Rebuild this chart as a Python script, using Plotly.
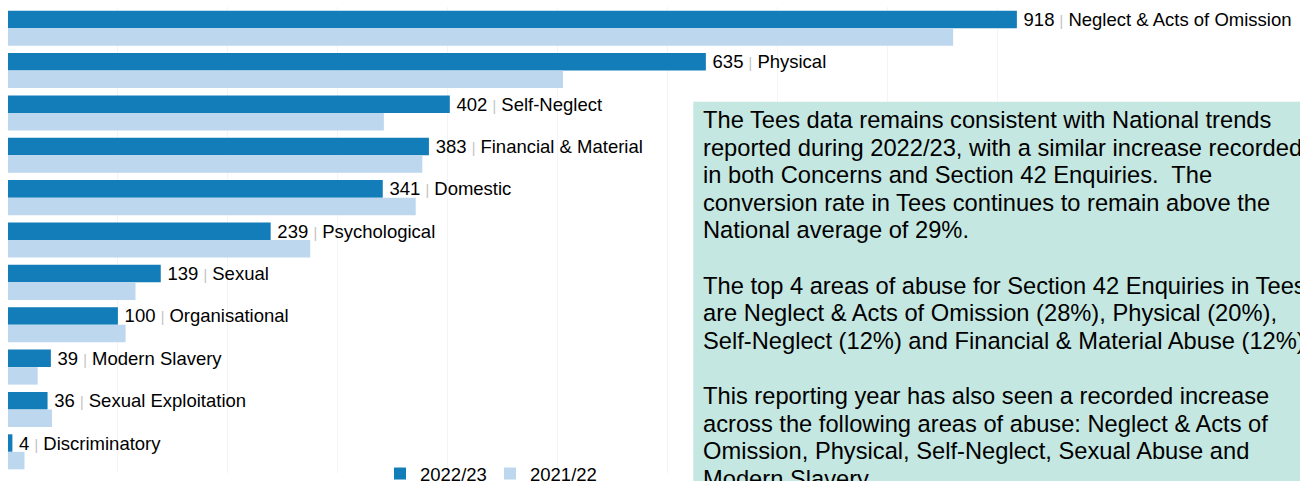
import plotly.graph_objects as go

categories = ["Neglect & Acts of Omission", "Physical", "Self-Neglect", "Financial & Material",
              "Domestic", "Psychological", "Sexual", "Organisational", "Modern Slavery",
              "Sexual Exploitation", "Discriminatory"]
values_2223 = [918, 635, 402, 383, 341, 239, 139, 100, 39, 36, 4]
values_2122 = [860, 505, 342, 377, 371, 275, 116, 107, 27, 40, 15]
series_names = ["2022/23", "2021/22"]

note_lines = [
    "The Tees data remains consistent with National trends",
    "reported during 2022/23, with a similar increase recorded",
    "in both Concerns and Section 42 Enquiries.  The",
    "conversion rate in Tees continues to remain above the",
    "National average of 29%.",
    "",
    "The top 4 areas of abuse for Section 42 Enquiries in Tees",
    "are Neglect & Acts of Omission (28%), Physical (20%),",
    "Self-Neglect (12%) and Financial & Material Abuse (12%)",
    "",
    "This reporting year has also seen a recorded increase",
    "across the following areas of abuse: Neglect & Acts of",
    "Omission, Physical, Self-Neglect, Sexual Abuse and",
    "Modern Slavery.",
]

W, H = 1300, 481
ML, MR, MT, MB = 8, 193, 7, 8
PW, PH = W - ML - MR, H - MT - MB

def px_x(px):
    return (px - ML) / PW

def px_y(py):
    return (H - MB - py) / PH

FONT = "Arial, Liberation Sans, sans-serif"
DARK = "#127DB9"
LIGHT = "#BDD7EE"

labels = [f"\u2009{v} <span style='color:#BFBFBF;font-size:14px'>|</span> {c}"
          for v, c in zip(values_2223, categories)]

fig = go.Figure()
fig.add_trace(go.Bar(
    y=categories, x=values_2223, orientation="h", name=series_names[0],
    marker=dict(color=DARK, line=dict(width=0)),
    text=labels, textposition="outside", constraintext="none", cliponaxis=False,
    textfont=dict(family=FONT, size=18.5, color="#000000"),
    hoverinfo="x+y",
))
fig.add_trace(go.Bar(
    y=categories, x=values_2122, orientation="h", name=series_names[1],
    marker=dict(color=LIGHT, line=dict(width=0)),
    hoverinfo="x+y",
))

shapes = [dict(type="rect", xref="paper", yref="paper",
               x0=px_x(693.3), x1=px_x(1320), y0=px_y(500), y1=px_y(101.7),
               fillcolor="#C5E7E1", line=dict(width=0), layer="above")]

annotations = []
base0 = 128.2
step = 27.6
fs = 23.7
for i, line in enumerate(note_lines):
    if not line:
        continue
    center = base0 + i * step - 0.3465 * fs
    annotations.append(dict(
        text=line, xref="paper", yref="paper", x=px_x(700.5), y=px_y(center),
        xanchor="left", yanchor="middle", showarrow=False, align="left",
        font=dict(family=FONT, size=fs, color="#000000"),
    ))

fig.update_layout(
    width=W, height=H,
    margin=dict(l=ML, r=MR, t=MT, b=MB, pad=0, autoexpand=False),
    paper_bgcolor="white", plot_bgcolor="white",
    barmode="group", bargap=0.173, bargroupgap=0,
    showlegend=True,
    legend=dict(orientation="h", x=px_x(380), xanchor="left", y=px_y(474), yanchor="middle",
                font=dict(family=FONT, size=18.5, color="#000000"),
                bgcolor="rgba(0,0,0,0)", entrywidth=65, entrywidthmode="pixels",
                traceorder="normal"),
    xaxis=dict(range=[0, 1000], showticklabels=False, showgrid=True, gridcolor="#F4F4F4",
               gridwidth=1, zeroline=False, showline=False, dtick=100, tick0=0, ticks=""),
    yaxis=dict(categoryorder="array", categoryarray=categories, autorange="reversed",
               showticklabels=False, showgrid=False, zeroline=False, showline=False, ticks=""),
    shapes=shapes, annotations=annotations,
    font=dict(family=FONT),
)

fig.write_html("out.html")
